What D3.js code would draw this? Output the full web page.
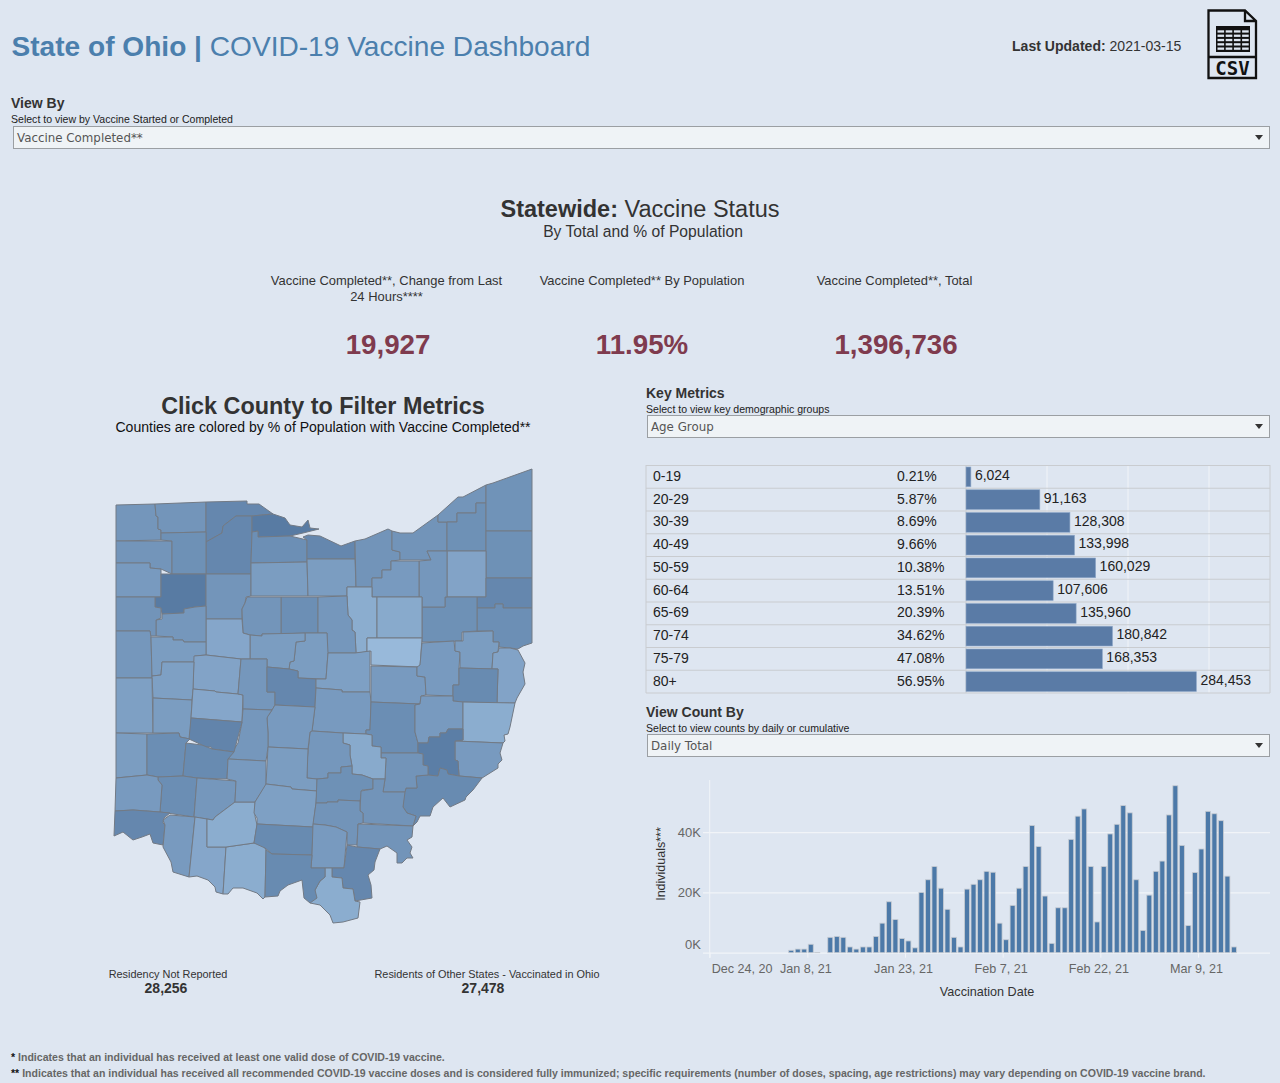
<!DOCTYPE html>
<html>
<head>
<meta charset="utf-8">
<title>State of Ohio | COVID-19 Vaccine Dashboard</title>
<script src="https://cdn.jsdelivr.net/npm/d3@7"></script>
<style>
  html, body { margin: 0; padding: 0; background: #dee6f1; }
  svg { display: block; font-family: "Liberation Sans", Arial, sans-serif; }
</style>
</head>
<body>
<svg id="dash" width="1280" height="1083"></svg>
<script>
// age group table
const ageGroups = ['0-19','20-29','30-39','40-49','50-59','60-64','65-69','70-74','75-79','80+'];
const agePct = ['0.21%','5.87%','8.69%','9.66%','10.38%','13.51%','20.39%','34.62%','47.08%','56.95%'];
const ageCounts = [6024,91163,128308,133998,160029,107606,135960,180842,168353,284453];

// daily completed, thousands, first value is Jan 5 2021
const dailyStart = '2021-01-05';
const dailyK = [0.8,1.2,1.2,2.8,0.1,0,5.1,5.4,5.1,1.9,1.2,1.9,1.9,5.4,9.8,16.9,11,4.7,3.9,1.6,
  20,24.2,28.6,21.4,14.4,5.1,1.9,21.1,22.7,24.2,27,26.7,9.8,4.3,15.7,21.4,28.6,42.2,35.2,18.8,
  3.1,14.9,14.9,37.6,45.3,47.7,28.6,10.2,28.6,39.4,42.6,48.8,46.4,24.2,7.4,19.1,27,30.4,45.7,55.4,
  35.6,9,26.6,34.4,46.9,46.1,43.8,25.4,1.9];
const dailyTicksK = [0,20,40];
const dailyTickDates = ['2020-12-24','2021-01-08','2021-01-23','2021-02-07','2021-02-22','2021-03-09'];

// KPI row
const kpiLabels = [['Vaccine Completed**, Change from Last','24 Hours****'],['Vaccine Completed** By Population'],['Vaccine Completed**, Total']];
const kpiValues = ['19,927','11.95%','1,396,736'];

// counties: name, % of population (estimated from the shade), outline in map units
const countyNames = ['Williams','Fulton','Lucas','Wood','Ottawa','Sandusky','Erie','Defiance','Henry','Paulding','Putnam','Hancock',
  'Seneca','Huron','Lorain','Cuyahoga','Lake','Geauga','Ashtabula','Trumbull','Portage','Mahoning','Columbiana','Stark',
  'Summit','Medina','Ashland','Wayne','Holmes','Crawford','Wyandot','Richland','Morrow','Marion','Hardin','Allen',
  'Van Wert','Mercer','Auglaize','Logan','Shelby','Darke','Miami','Champaign','Union','Delaware','Knox','Licking',
  'Coshocton','Muskingum','Tuscarawas','Carroll','Jefferson','Harrison','Guernsey','Belmont','Monroe','Noble','Washington','Morgan',
  'Perry','Fairfield','Franklin','Madison','Clark','Preble','Montgomery','Greene','Warren','Butler','Hamilton','Clinton',
  'Clermont','Brown','Adams','Highland','Fayette','Pickaway','Ross','Pike','Hocking','Athens','Vinton','Meigs',
  'Jackson','Gallia','Lawrence','Scioto'];
const countyPct = [11.6,11.8,14,14,16,12.8,14,11.8,12.5,11,16,11.8,
  10.5,10.5,12,12,11.8,12.5,12.2,12.5,9.5,14,12.8,12.5,
  11.5,11,8,8.5,6,12.8,11.8,11.5,10.5,10.5,9,11.5,
  12,11.5,10.5,9.5,10,10,10.5,9,11.5,14,10,11,
  11,13,11,10.5,9.5,13.5,11,8,11,15.5,13.5,12,
  8.5,11.5,11,11.5,14.5,10.5,13,13.5,13,11,14,11.5,
  11,9,8,8,11,10.5,10,13.5,12.5,12,12,12,
  11,14,8,13.5];
const countyOutlines = [
  [[116,505],[155,504],[156,516],[158,517],[158,529],[161,530],[161,540],[116,541]],
  [[155,504],[206,502],[206,532],[161,533],[161,530],[158,529],[158,517],[156,516]],
  [[206,502],[247,501],[247,504],[259,504],[273,514],[252,516],[236,516],[223,526],[222,533],[206,542]],
  [[206,542],[222,533],[223,526],[236,516],[252,516],[252,532],[251,563],[251,574],[206,574]],
  [[252,516],[273,514],[285,518],[290,525],[302,527],[308,520],[310,528],[319,529],[303,533],[290,536],[258,537],[258,531],[252,532]],
  [[252,532],[258,531],[258,537],[290,536],[307,540],[307,562],[251,563]],
  [[307,540],[303,537],[308,535],[320,536],[341,546],[355,541],[355,559],[307,559]],
  [[116,541],[172,541],[172,574],[161,569],[150,568],[150,563],[116,563]],
  [[161,533],[206,532],[206,574],[172,574],[172,541],[161,540]],
  [[116,563],[150,563],[150,568],[161,569],[161,597],[116,597]],
  [[161,574],[206,574],[206,606],[195,607],[184,609],[184,613],[162,614],[161,608],[155,607],[155,597],[161,597]],
  [[206,574],[251,574],[251,596],[246,597],[245,603],[242,609],[242,619],[206,619]],
  [[251,563],[307,562],[308,596],[251,596]],
  [[307,559],[355,559],[356,587],[347,587],[347,596],[308,596]],
  [[355,541],[365,539],[388,529],[392,531],[392,550],[400,552],[400,560],[391,561],[391,570],[382,570],[382,578],[372,578],[372,587],[356,587]],
  [[392,531],[400,533],[413,533],[438,515],[438,522],[447,522],[447,551],[427,551],[431,560],[400,560],[400,552],[392,550]],
  [[438,515],[458,497],[463,497],[486,485],[486,503],[476,503],[476,513],[457,513],[457,522],[438,522]],
  [[447,522],[457,522],[457,513],[476,513],[476,503],[486,503],[486,551],[447,551]],
  [[486,485],[493,483],[532,469],[532,531],[486,531]],
  [[486,531],[532,531],[532,578],[486,578]],
  [[447,551],[486,551],[486,597],[447,597]],
  [[486,578],[532,578],[532,608],[503,608],[503,604],[495,604],[495,608],[477,608],[477,597],[486,597]],
  [[477,608],[495,608],[495,604],[503,604],[503,608],[532,608],[532,643],[523,646],[518,649],[510,648],[499,647],[499,642],[493,642],[493,631],[477,631]],
  [[422,607],[445,607],[445,597],[477,597],[477,631],[462,632],[462,641],[422,642]],
  [[419,561],[431,560],[427,551],[447,551],[447,597],[445,597],[445,607],[422,607],[422,597],[419,597]],
  [[372,578],[382,578],[382,570],[391,570],[391,561],[419,561],[419,597],[372,597]],
  [[347,587],[372,587],[372,597],[377,597],[377,638],[367,638],[367,652],[356,653],[355,632],[352,630],[352,620],[348,615],[347,596]],
  [[377,597],[422,597],[422,638],[377,638]],
  [[367,638],[422,638],[420,667],[371,665],[371,651],[367,652]],
  [[281,597],[318,597],[318,633],[305,633],[281,634]],
  [[247,597],[281,597],[281,634],[262,634],[262,636],[250,635],[243,633],[242,609],[245,603]],
  [[318,597],[347,596],[348,615],[352,620],[352,630],[355,632],[356,653],[327,653],[327,633],[318,633]],
  [[305,633],[327,633],[328,653],[326,679],[298,678],[298,671],[289,669],[290,662],[294,661],[296,642],[305,641]],
  [[250,635],[262,636],[262,634],[305,633],[305,641],[296,642],[294,661],[290,662],[289,669],[267,667],[267,659],[250,659]],
  [[206,619],[242,619],[243,633],[250,635],[250,659],[241,659],[206,655]],
  [[156,620],[162,619],[162,614],[184,613],[184,609],[195,607],[206,606],[206,642],[184,642],[183,640],[173,640],[173,637],[156,636]],
  [[116,597],[155,597],[155,607],[161,608],[161,618],[156,620],[156,636],[150,636],[150,631],[116,631]],
  [[116,631],[150,631],[151,637],[152,676],[152,678],[116,678]],
  [[151,637],[173,637],[173,640],[183,640],[184,642],[206,642],[206,655],[195,656],[194,662],[162,662],[161,675],[152,676]],
  [[194,656],[206,655],[241,659],[238,694],[216,692],[215,691],[193,689]],
  [[162,662],[194,662],[193,689],[192,700],[153,698],[152,676],[161,675]],
  [[116,678],[152,678],[153,733],[116,733]],
  [[153,698],[192,700],[190,739],[180,737],[179,733],[153,733]],
  [[193,689],[215,691],[216,692],[238,694],[243,695],[242,722],[191,718]],
  [[241,659],[267,659],[267,692],[275,692],[275,705],[272,710],[243,709],[243,695],[238,694]],
  [[267,667],[289,669],[298,671],[298,678],[316,679],[315,707],[275,705],[275,692],[267,692]],
  [[328,653],[355,653],[370,651],[370,692],[342,692],[342,690],[316,688],[316,679],[326,679]],
  [[316,688],[342,690],[342,692],[370,692],[371,702],[370,730],[366,730],[366,734],[343,733],[312,731],[315,707]],
  [[371,666],[417,667],[417,676],[425,677],[426,695],[421,696],[420,704],[371,702]],
  [[371,702],[420,704],[415,705],[415,732],[418,743],[418,753],[381,753],[381,747],[372,746],[372,735],[366,734],[366,730],[370,730]],
  [[422,643],[454,641],[455,651],[460,652],[459,668],[459,685],[453,685],[453,696],[426,695],[425,677],[417,676],[417,667],[420,665]],
  [[463,632],[493,631],[493,642],[499,642],[498,652],[493,653],[492,669],[460,668],[460,652],[455,651],[455,641],[463,641]],
  [[499,648],[510,648],[518,650],[525,663],[523,672],[525,684],[517,698],[515,703],[497,703],[498,669],[492,669],[493,653],[498,652]],
  [[459,668],[498,669],[497,703],[463,702],[453,701],[453,685],[459,685]],
  [[421,696],[453,696],[453,701],[463,702],[463,729],[448,729],[446,733],[440,733],[440,737],[429,737],[428,743],[418,743],[415,732],[415,705],[420,704]],
  [[463,702],[515,703],[510,727],[508,734],[504,735],[505,741],[503,743],[455,741],[463,740]],
  [[455,741],[503,743],[500,753],[502,760],[498,764],[498,768],[490,773],[482,778],[459,776],[458,761],[455,760]],
  [[418,743],[428,743],[429,737],[440,737],[440,733],[446,733],[448,729],[463,729],[463,740],[455,741],[455,760],[458,761],[459,776],[448,774],[447,770],[440,768],[438,776],[428,775],[428,766],[423,765],[423,754],[418,753]],
  [[416,776],[428,775],[438,776],[440,768],[447,770],[448,774],[459,776],[482,778],[473,790],[466,797],[465,800],[450,807],[443,798],[433,807],[430,816],[420,816],[417,822],[413,826],[416,816],[407,813],[403,807],[404,793],[405,792],[406,788],[417,788]],
  [[381,753],[418,753],[423,754],[423,765],[428,766],[428,775],[416,776],[417,788],[406,788],[405,792],[383,792],[385,779],[386,758],[381,758]],
  [[343,733],[366,734],[372,735],[372,746],[381,747],[381,758],[386,758],[385,779],[373,779],[362,775],[352,774],[352,766],[350,755],[350,745],[343,743]],
  [[312,731],[343,733],[343,743],[350,745],[350,755],[352,766],[341,767],[341,773],[328,773],[328,778],[317,779],[307,778],[307,762],[310,732]],
  [[275,705],[315,707],[312,731],[310,732],[308,749],[268,747],[268,733],[267,717],[268,716],[272,710]],
  [[243,709],[272,710],[268,716],[267,718],[268,733],[268,747],[266,761],[228,759],[238,743],[242,722]],
  [[191,718],[242,722],[234,752],[212,749],[211,747],[202,747],[202,745],[189,739]],
  [[116,733],[147,734],[147,775],[116,778]],
  [[147,734],[179,733],[180,737],[190,739],[186,743],[183,776],[158,777],[147,775]],
  [[186,743],[202,745],[212,749],[234,752],[228,759],[227,779],[197,778],[183,776]],
  [[158,777],[183,776],[197,778],[194,817],[160,812],[162,785],[158,780]],
  [[116,778],[147,775],[158,777],[158,780],[162,785],[160,812],[133,810],[115,811]],
  [[115,811],[133,810],[160,812],[170,813],[164,818],[163,823],[165,825],[163,845],[153,843],[150,834],[142,837],[133,840],[123,832],[114,836]],
  [[197,778],[236,781],[235,802],[215,817],[213,820],[207,819],[194,817]],
  [[170,815],[195,817],[189,877],[173,872],[171,862],[163,847],[165,825],[163,820]],
  [[195,817],[207,819],[207,847],[226,847],[223,894],[216,892],[215,887],[208,880],[197,876],[189,877]],
  [[226,847],[254,843],[262,843],[266,850],[265,897],[263,899],[257,893],[243,888],[233,888],[228,894],[223,894]],
  [[207,819],[213,820],[215,817],[235,802],[255,802],[255,816],[257,825],[254,843],[226,847],[207,847]],
  [[228,759],[266,761],[266,785],[255,802],[235,802],[236,781],[227,779]],
  [[268,747],[308,749],[307,778],[317,779],[317,791],[292,789],[291,787],[266,784]],
  [[266,784],[291,787],[292,789],[317,791],[316,803],[313,827],[257,824],[257,818],[254,813],[255,802]],
  [[257,824],[313,827],[312,855],[272,854],[265,848],[254,843]],
  [[317,779],[328,778],[328,773],[341,773],[341,767],[352,766],[352,774],[362,775],[373,779],[373,789],[362,790],[360,801],[338,800],[338,802],[327,802],[327,803],[316,803]],
  [[373,779],[385,779],[383,792],[405,792],[403,807],[407,813],[416,816],[413,826],[363,823],[363,813],[360,811],[361,791],[373,789]],
  [[316,803],[327,803],[327,802],[338,802],[338,800],[360,801],[360,811],[363,813],[363,823],[358,824],[357,845],[347,845],[347,832],[336,827],[325,825],[313,824]],
  [[358,824],[413,826],[412,837],[407,840],[412,847],[410,853],[413,858],[407,858],[402,863],[397,863],[397,853],[387,846],[380,849],[357,847]],
  [[313,824],[325,825],[336,827],[347,832],[344,868],[311,868],[312,855]],
  [[347,845],[357,847],[380,849],[375,862],[374,870],[368,875],[371,885],[372,898],[355,901],[353,889],[343,888],[342,878],[332,877],[332,868],[344,868]],
  [[325,868],[332,868],[332,877],[342,878],[343,888],[353,889],[355,901],[360,902],[358,918],[343,922],[333,923],[330,915],[320,905],[310,903],[315,890],[320,881],[325,877]],
  [[266,850],[272,854],[312,855],[311,868],[325,868],[325,877],[320,881],[315,890],[317,898],[310,903],[304,898],[302,880],[288,885],[280,891],[278,896],[265,897]]
];

const svg = d3.select('#dash');
const sans = 'Liberation Sans';
const txt = (x, y, s, size, opts = {}) => svg.append('text')
  .attr('x', x).attr('y', y).text(s)
  .attr('font-size', size)
  .attr('font-weight', opts.weight || 'normal')
  .attr('fill', opts.fill || '#333')
  .attr('text-anchor', opts.anchor || 'start');

// header
const title = svg.append('text').attr('x', 11.5).attr('y', 56).attr('font-size', 28.1).attr('fill', '#4b7fad');
title.append('tspan').attr('font-weight', 'bold').text('State of Ohio |');
title.append('tspan').text(' COVID-19 Vaccine Dashboard');
const upd = svg.append('text').attr('x', 1012).attr('y', 51).attr('font-size', 14.05).attr('fill', '#333');
upd.append('tspan').attr('font-weight', 'bold').text('Last Updated:');
upd.append('tspan').text(' 2021-03-15');

// csv icon
const icon = svg.append('g').attr('fill', 'none').attr('stroke', '#111').attr('stroke-width', 2.3);
icon.append('path').attr('d', 'M1208.5 10.5H1245L1256 21V78H1208.5ZM1245 10.5V21H1256M1208.5 57H1256');
icon.append('rect').attr('x', 1216).attr('y', 26).attr('width', 34).attr('height', 26).attr('fill', '#111').attr('stroke', 'none');
d3.range(4).forEach(c => d3.range(5).forEach(r => icon.append('rect')
  .attr('x', 1217.5 + c * 8.2).attr('y', 30.3 + r * 4.3).attr('width', 6.6).attr('height', 2.3)
  .attr('fill', '#dee6f1').attr('stroke', 'none')));
svg.append('text').attr('x', 1232.5).attr('y', 75).attr('text-anchor', 'middle')
  .attr('font-family', 'DejaVu Sans Mono').attr('font-weight', 'bold').attr('font-size', 19).attr('fill', '#111').text('CSV');

// filter controls
const dropdown = (x0, x1, y0, y1, label) => {
  svg.append('rect').attr('x', x0 + 0.5).attr('y', y0 + 0.5).attr('width', x1 - x0 - 1).attr('height', y1 - y0)
    .attr('fill', '#eff3f6').attr('stroke', '#9b9fa3');
  svg.append('text').attr('x', x0 + 4).attr('y', y0 + 15.5).attr('font-family', 'DejaVu Sans')
    .attr('font-size', 11.85).attr('fill', '#555').text(label);
  svg.append('path').attr('d', `M${x1 - 15} ${y0 + 9}h8l-4 5z`).attr('fill', '#333');
};
const filterHead = (x, y, head, sub) => {
  txt(x, y + 1, head, 14, { weight: 'bold', fill: '#333' });
  txt(x, y + 16, sub, 10.55, { fill: '#222' });
};
filterHead(11, 107, 'View By', 'Select to view by Vaccine Started or Completed');
dropdown(13, 1270, 126, 148, 'Vaccine Completed**');
filterHead(646, 397, 'Key Metrics', 'Select to view key demographic groups');
dropdown(647, 1270, 415, 437, 'Age Group');
filterHead(646, 716, 'View Count By', 'Select to view counts by daily or cumulative');
dropdown(647, 1270, 734, 756, 'Daily Total');

// statewide
const state = svg.append('text').attr('x', 640).attr('y', 217).attr('text-anchor', 'middle').attr('font-size', 23.5).attr('fill', '#333');
state.append('tspan').attr('font-weight', 'bold').text('Statewide:');
state.append('tspan').text(' Vaccine Status');
txt(643, 237, 'By Total and % of Population', 15.65, { anchor: 'middle' });

const kpiX = d3.scalePoint().domain(d3.range(3)).range([388, 896]);
kpiLabels.forEach((lines, i) => {
  lines.forEach((s, j) => txt(kpiX(i) - (i === 1 ? 0 : 1.5), 285 + j * 16, s, 12.95, { anchor: 'middle' }));
  txt(kpiX(i), 354, kpiValues[i], 27.7, { weight: 'bold', fill: '#7f3b4e', anchor: 'middle' });
});

// county map
txt(323, 414, 'Click County to Filter Metrics', 23.4, { weight: 'bold', anchor: 'middle' });
txt(323, 432, 'Counties are colored by % of Population with Vaccine Completed**', 14.05, { fill: '#111', anchor: 'middle' });

const counties = {
  type: 'FeatureCollection',
  features: countyNames.map((name, i) => ({
    type: 'Feature',
    properties: { name, pct: countyPct[i] },
    geometry: { type: 'Polygon', coordinates: [[...countyOutlines[i], countyOutlines[i][0]]] }
  }))
};
const projection = d3.geoIdentity().fitExtent([[114, 469], [532, 923]], counties);
const geoPath = d3.geoPath(projection);
const colorScale = d3.scaleLinear().domain([6, 16]).range(['#98b9da', '#587ba3']).interpolate(d3.interpolateRgb);

svg.append('g').selectAll('path')
  .data(counties.features)
  .enter()
  .append('path')
  .attr('d', geoPath)
  .attr('fill', d => colorScale(d.properties.pct))
  .attr('stroke', '#727a85')
  .attr('stroke-width', 1)
  .attr('stroke-linejoin', 'round')
  .append('title').text(d => d.properties.name);

txt(168, 978, 'Residency Not Reported', 10.9, { anchor: 'middle' });
txt(166, 993, '28,256', 14, { weight: 'bold', anchor: 'middle' });
txt(487, 978, 'Residents of Other States - Vaccinated in Ohio', 10.9, { anchor: 'middle' });
txt(483, 993, '27,478', 14, { weight: 'bold', anchor: 'middle' });

// age group bars
const rowY = d3.scaleBand().domain(ageGroups).range([465.5, 693]);
const countX = d3.scaleLinear().domain([0, 300000]).range([966, 1209]);
const ageG = svg.append('g');
ageG.selectAll('.grid').data(countX.ticks(3).slice(1)).enter().append('line').attr('class', 'grid')
  .attr('x1', d => countX(d)).attr('x2', d => countX(d)).attr('y1', 465).attr('y2', 693)
  .attr('stroke', '#f1f4f8').attr('stroke-width', 1);
ageG.selectAll('.row').data([...ageGroups.map(a => rowY(a)), 693]).enter().append('line').attr('class', 'row')
  .attr('x1', 646).attr('x2', 1270).attr('y1', d => d).attr('y2', d => d)
  .attr('stroke', '#c9ccd0').attr('stroke-width', 1.2);
[646, 966, 1270].forEach(x => ageG.append('line').attr('x1', x).attr('x2', x).attr('y1', 465).attr('y2', 693)
  .attr('stroke', '#c9ccd0').attr('stroke-width', 1));
ageG.selectAll('.bar').data(ageCounts).enter().append('rect').attr('class', 'bar')
  .attr('x', countX(0))
  .attr('y', (d, i) => rowY(ageGroups[i]) + 1.5)
  .attr('width', d => countX(d) - countX(0))
  .attr('height', rowY.bandwidth() - 3)
  .attr('fill', '#5a7ba6').attr('stroke', '#8fa8c8').attr('stroke-width', 0.6);
ageGroups.forEach((a, i) => {
  const y = rowY(a) + rowY.bandwidth() / 2 + 4.5;
  txt(653, y - 0.5, a, 14, { fill: '#222' });
  txt(897, y - 0.5, agePct[i], 14, { fill: '#222' });
  txt(countX(ageCounts[i]) + 4, y - 1.3, d3.format(',')(ageCounts[i]), 14, { fill: '#222' });
});

// daily chart
const parseDay = d3.utcParse('%Y-%m-%d');
const dayOne = parseDay(dailyStart);
const dailyX = d3.scaleUtc().domain([parseDay('2020-12-24'), parseDay('2021-03-20')]).range([709.7, 1269.6]);
const dailyY = d3.scaleLinear().domain([0, 57.3]).range([952.7, 780]);

const yAxis = svg.append('g').attr('transform', 'translate(703,0)')
  .call(d3.axisLeft(dailyY).tickValues(dailyTicksK).tickSize(-567).tickPadding(2).tickFormat(d => d + 'K'));
yAxis.select('.domain').remove();
yAxis.selectAll('line').attr('stroke', '#f1f4f8').attr('stroke-width', 1.2);
yAxis.selectAll('text').attr('font-size', 13).attr('fill', '#666').attr('font-family', sans)
  .attr('dy', d => d === 0 ? -4.7 : 4.5);

svg.append('line').attr('x1', dailyX.range()[0]).attr('x2', dailyX.range()[0]).attr('y1', 780).attr('y2', 958)
  .attr('stroke', '#f1f4f8').attr('stroke-width', 1);

const xAxis = svg.append('g').attr('transform', `translate(0,${dailyY(0)})`)
  .call(d3.axisBottom(dailyX).tickValues(dailyTickDates.map(parseDay)).tickSize(5).tickPadding(6)
    .tickFormat(d3.utcFormat('%b %-d, %y')));
xAxis.select('.domain').remove();
xAxis.selectAll('line').attr('stroke', '#f1f4f8').attr('stroke-width', 1);
xAxis.selectAll('text').attr('font-size', 12.6).attr('fill', '#666').attr('font-family', sans)
  .attr('text-anchor', (d, i) => i === 0 ? 'start' : 'middle')
  .attr('dx', (d, i) => i === 0 ? 1.5 : -2);

svg.append('g').selectAll('rect')
  .data(dailyK)
  .enter()
  .append('rect')
  .attr('x', (d, i) => dailyX(d3.utcDay.offset(dayOne, i)) + 0.9)
  .attr('width', 5)
  .attr('y', d => dailyY(d))
  .attr('height', d => dailyY(0) - dailyY(d))
  .attr('fill', '#4c79a8')
  .attr('stroke', d => d > 0 ? '#c7ccd3' : 'none')
  .attr('stroke-width', 0.8);

svg.append('text').attr('transform', 'translate(665,864) rotate(-90)').attr('text-anchor', 'middle')
  .attr('font-size', 12.5).attr('fill', '#333').text('Individuals***');
txt(987, 996, 'Vaccination Date', 12.6, { anchor: 'middle' });

// footnotes
const foot = (y, star, s) => {
  const t = svg.append('text').attr('x', 11).attr('y', y).attr('font-size', 10.56).attr('font-weight', 'bold').attr('fill', '#666');
  t.append('tspan').attr('fill', '#111').text(star);
  t.append('tspan').text(s);
};
foot(1061, '*', ' Indicates that an individual has received at least one valid dose of COVID-19 vaccine.');
foot(1077, '**', ' Indicates that an individual has received all recommended COVID-19 vaccine doses and is considered fully immunized; specific requirements (number of doses, spacing, age restrictions) may vary depending on COVID-19 vaccine brand.');
</script>
</body>
</html>
